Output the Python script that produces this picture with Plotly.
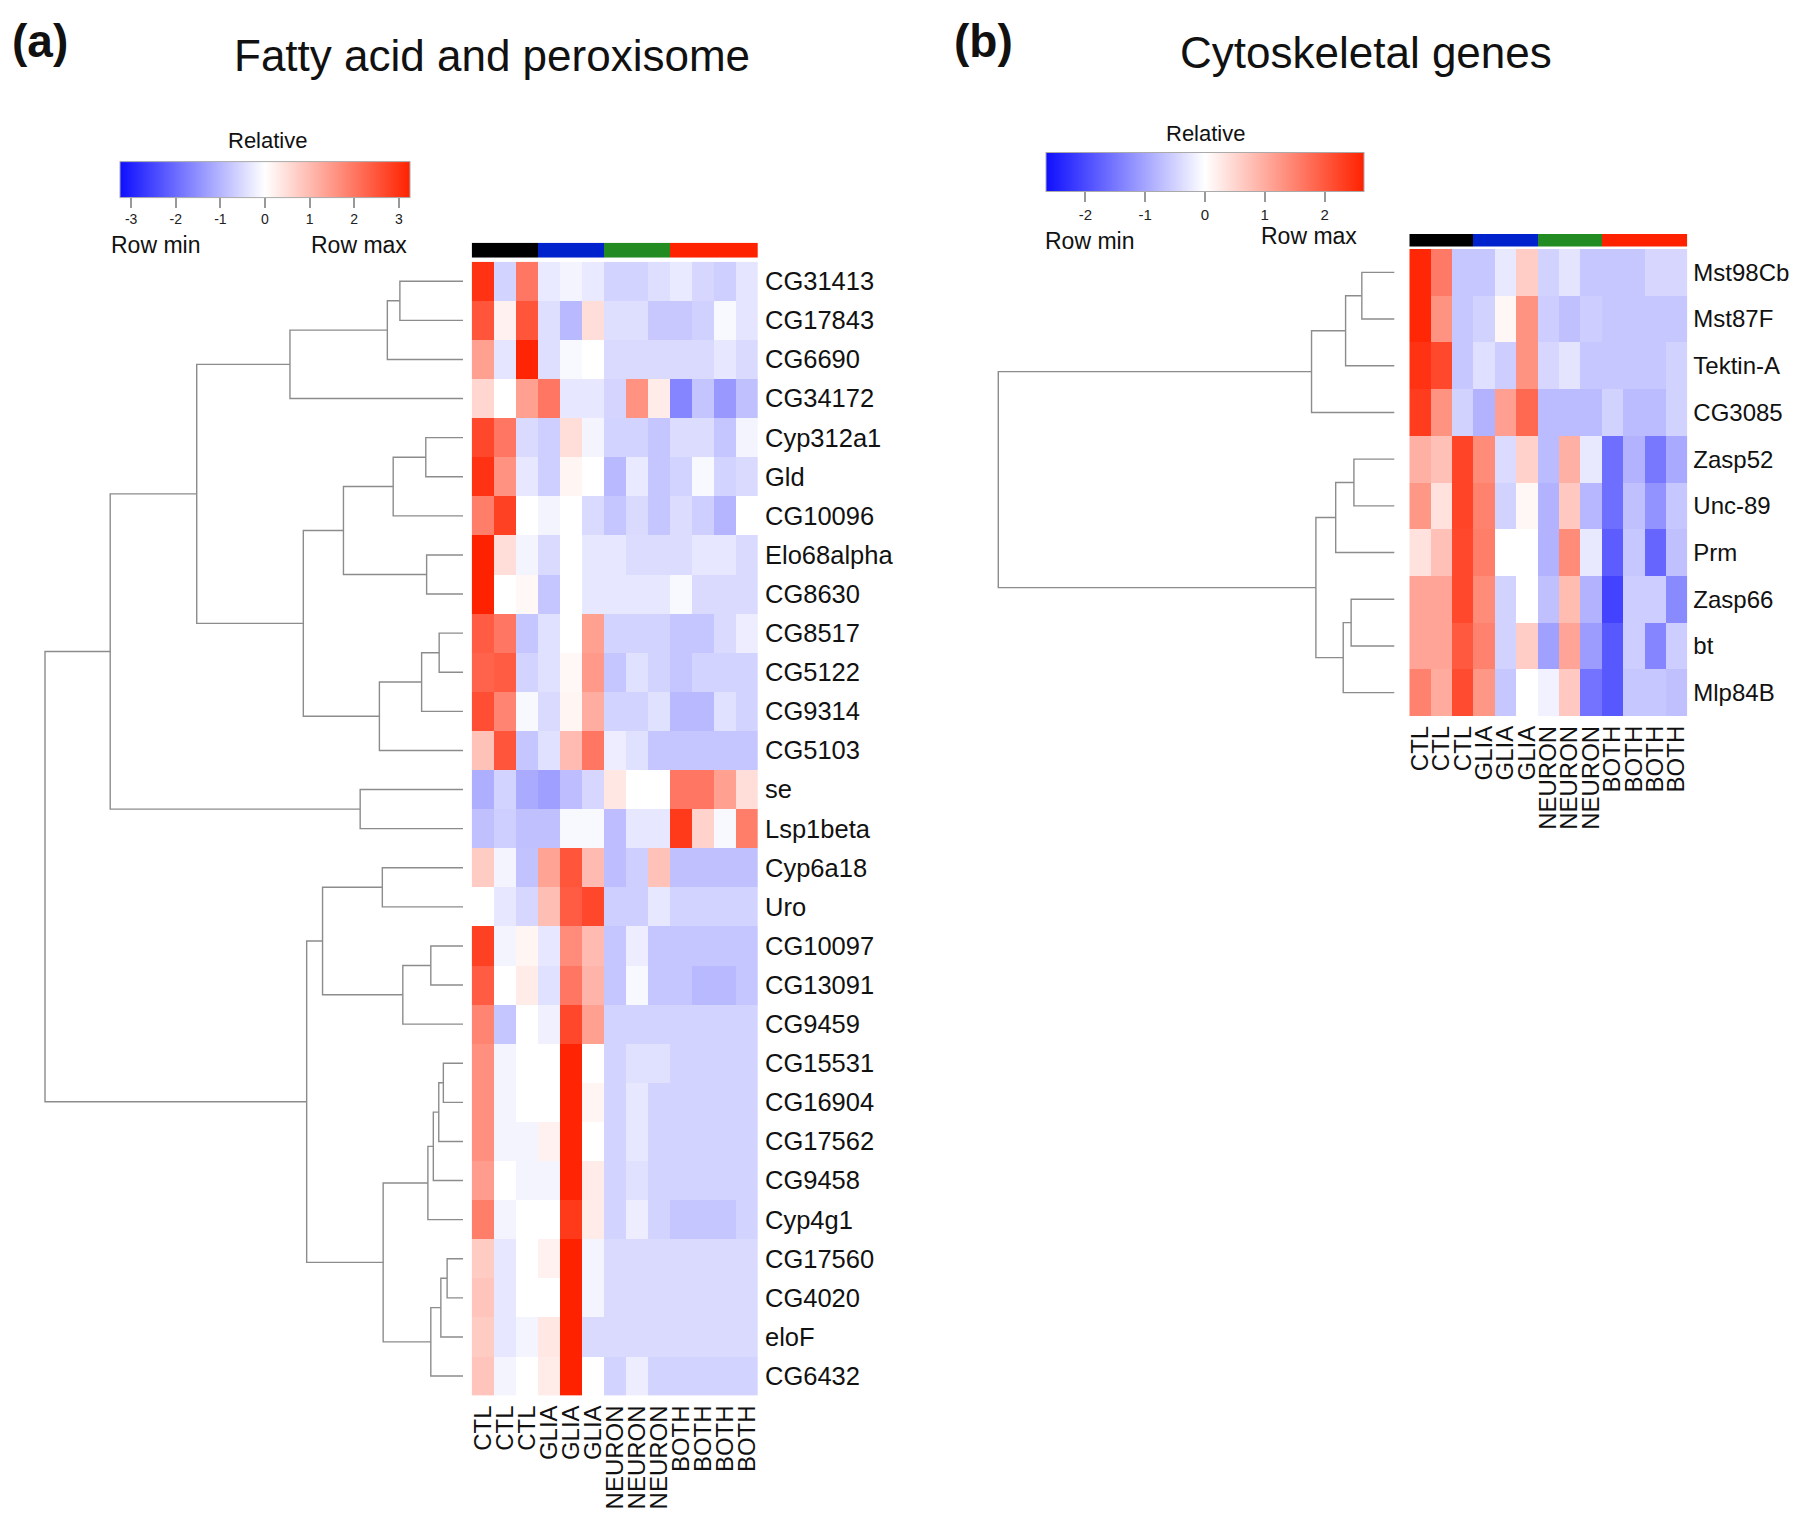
import plotly.graph_objects as go

# ---------------- data ----------------
samples = ["CTL", "CTL", "CTL", "GLIA", "GLIA", "GLIA", "NEURON", "NEURON", "NEURON",
           "BOTH", "BOTH", "BOTH", "BOTH"]
group_names = ["CTL", "GLIA", "NEURON", "BOTH"]
group_colors = ["#000000", "#0022CC", "#228B22", "#FF2200"]

genes_a = ["CG31413", "CG17843", "CG6690", "CG34172", "Cyp312a1", "Gld", "CG10096",
           "Elo68alpha", "CG8630", "CG8517", "CG5122", "CG9314", "CG5103", "se",
           "Lsp1beta", "Cyp6a18", "Uro", "CG10097", "CG13091", "CG9459", "CG15531",
           "CG16904", "CG17562", "CG9458", "Cyp4g1", "CG17560", "CG4020", "eloF", "CG6432"]

values_a = [
    [3.0, -0.6, 2.0, -0.3, -0.15, -0.3, -0.6, -0.6, -0.45, -0.3, -0.55, -0.65, -0.35],
    [2.5, 0.2, 2.5, -0.45, -0.95, 0.5, -0.45, -0.45, -0.75, -0.75, -0.62, -0.1, -0.35],
    [1.4, -0.35, 3.2, -0.45, -0.1, 0.0, -0.5, -0.5, -0.5, -0.5, -0.5, -0.33, -0.5],
    [0.6, 0.0, 1.4, 2.0, -0.33, -0.33, -0.58, 1.6, 0.3, -1.65, -0.8, -1.4, -0.85],
    [2.7, 2.0, -0.5, -0.65, 0.5, -0.15, -0.6, -0.6, -0.78, -0.47, -0.47, -0.78, -0.15],
    [3.0, 1.6, -0.33, -0.65, 0.15, 0.0, -0.95, -0.3, -0.78, -0.6, -0.1, -0.6, -0.5],
    [1.9, 2.8, 0.0, -0.15, 0.0, -0.5, -0.78, -0.5, -0.78, -0.47, -0.65, -1.0, 0.0],
    [3.25, 0.5, -0.15, -0.5, 0.0, -0.33, -0.33, -0.47, -0.47, -0.47, -0.33, -0.33, -0.5],
    [3.25, 0.0, 0.1, -0.78, 0.0, -0.33, -0.33, -0.33, -0.33, -0.1, -0.5, -0.5, -0.5],
    [2.4, 2.0, -0.78, -0.42, 0.0, 1.4, -0.6, -0.6, -0.6, -0.78, -0.78, -0.5, -0.25],
    [2.3, 2.4, -0.6, -0.42, 0.1, 1.5, -0.78, -0.42, -0.6, -0.78, -0.6, -0.6, -0.6],
    [2.6, 1.8, -0.1, -0.5, 0.15, 1.2, -0.6, -0.6, -0.42, -0.95, -0.95, -0.42, -0.6],
    [0.9, 2.5, -0.78, -0.42, 1.0, 2.0, -0.25, -0.42, -0.78, -0.78, -0.78, -0.78, -0.78],
    [-1.1, -0.6, -1.15, -1.3, -0.9, -0.55, 0.35, 0.0, 0.0, 2.0, 2.0, 1.4, 0.5],
    [-0.85, -0.65, -0.85, -0.85, -0.1, -0.1, -0.9, -0.33, -0.33, 2.9, 0.65, -0.1, 1.9],
    [0.75, -0.15, -0.82, 1.35, 2.5, 1.0, -0.9, -0.65, 0.9, -0.85, -0.85, -0.85, -0.85],
    [0.0, -0.33, -0.55, 0.95, 2.4, 2.7, -0.65, -0.65, -0.33, -0.6, -0.6, -0.6, -0.6],
    [2.8, -0.15, 0.15, -0.33, 1.7, 1.0, -0.78, -0.25, -0.78, -0.78, -0.78, -0.78, -0.78],
    [2.4, 0.0, 0.3, -0.42, 2.0, 1.1, -0.78, -0.1, -0.78, -0.78, -0.95, -0.95, -0.78],
    [1.8, -0.78, 0.0, -0.2, 2.7, 1.4, -0.6, -0.6, -0.6, -0.6, -0.6, -0.6, -0.6],
    [1.65, -0.15, 0.0, 0.0, 3.2, 0.0, -0.6, -0.42, -0.42, -0.6, -0.6, -0.6, -0.6],
    [1.65, -0.15, 0.0, 0.0, 3.2, 0.15, -0.6, -0.33, -0.6, -0.6, -0.6, -0.6, -0.6],
    [1.65, -0.15, -0.15, 0.2, 3.2, 0.0, -0.6, -0.33, -0.6, -0.6, -0.6, -0.6, -0.6],
    [1.45, 0.0, -0.15, -0.15, 3.2, 0.3, -0.6, -0.42, -0.6, -0.6, -0.6, -0.6, -0.6],
    [1.9, -0.15, 0.0, 0.0, 2.9, 0.3, -0.6, -0.25, -0.6, -0.78, -0.78, -0.78, -0.6],
    [0.75, -0.33, 0.0, 0.2, 3.25, -0.15, -0.5, -0.5, -0.5, -0.5, -0.5, -0.5, -0.5],
    [0.85, -0.33, 0.0, 0.0, 3.25, -0.15, -0.5, -0.5, -0.5, -0.5, -0.5, -0.5, -0.5],
    [0.75, -0.33, -0.15, 0.35, 3.25, -0.5, -0.5, -0.5, -0.5, -0.5, -0.5, -0.5, -0.5],
    [0.85, -0.15, 0.0, 0.3, 3.25, 0.0, -0.6, -0.25, -0.6, -0.6, -0.6, -0.6, -0.6],
]

# row dendrogram (a): [left, right, height]; leaves 0..28, merge k -> id 29+k
merge_a = [
    [0, 1, 1.51], [29, 2, 1.81], [30, 3, 4.14],
    [4, 5, 0.89], [32, 6, 1.67], [7, 8, 0.87], [33, 34, 2.86],
    [9, 10, 0.57], [36, 11, 0.99], [37, 12, 2.00], [35, 38, 3.82],
    [31, 39, 6.37], [13, 14, 2.46], [40, 41, 8.44],
    [15, 16, 1.93], [17, 18, 0.77], [44, 19, 1.44], [43, 45, 3.36],
    [20, 21, 0.47], [47, 22, 0.58], [48, 23, 0.71], [49, 24, 0.84],
    [25, 26, 0.38], [51, 27, 0.53], [52, 28, 0.77], [50, 53, 1.91],
    [46, 54, 3.74], [42, 55, 10.0],
]

genes_b = ["Mst98Cb", "Mst87F", "Tektin-A", "CG3085", "Zasp52", "Unc-89", "Prm",
           "Zasp66", "bt", "Mlp84B"]

values_b = [
    [2.6, 1.6, -0.62, -0.62, -0.25, 0.6, -0.5, -0.3, -0.62, -0.62, -0.62, -0.45, -0.45],
    [2.6, 1.3, -0.62, -0.5, 0.1, 1.3, -0.55, -0.7, -0.55, -0.62, -0.62, -0.62, -0.62],
    [2.45, 2.2, -0.62, -0.35, -0.55, 1.3, -0.45, -0.3, -0.62, -0.62, -0.62, -0.62, -0.5],
    [2.35, 1.3, -0.5, -0.85, 1.15, 1.8, -0.75, -0.75, -0.75, -0.5, -0.75, -0.75, -0.5],
    [0.95, 0.75, 2.25, 1.4, -0.4, 0.55, -0.75, 0.95, -0.25, -1.6, -0.85, -1.5, -0.95],
    [1.25, 0.35, 2.25, 1.5, -0.5, 0.1, -0.85, 0.65, -0.8, -1.6, -0.7, -1.2, -0.62],
    [0.35, 0.75, 2.2, 1.55, 0.0, 0.0, -0.85, 1.4, -0.25, -1.8, -0.62, -1.7, -0.7],
    [1.1, 1.1, 2.2, 1.4, -0.5, 0.0, -0.7, 0.8, -0.85, -2.1, -0.55, -0.55, -1.3],
    [1.1, 1.1, 2.0, 1.5, -0.5, 0.6, -1.05, 1.1, -1.1, -1.85, -0.55, -1.35, -0.55],
    [1.5, 1.0, 2.15, 1.25, -0.62, 0.0, -0.15, 0.65, -1.55, -1.85, -0.62, -0.62, -0.7],
]

# row dendrogram (b): leaves 0..9, merge k -> id 10+k
merge_b = [
    [0, 1, 0.82], [10, 2, 1.23], [11, 3, 2.09],
    [4, 5, 1.02], [13, 6, 1.48], [7, 8, 1.09], [15, 9, 1.29],
    [14, 16, 1.98], [12, 17, 10.0],
]

key_ticks_a = [-3, -2, -1, 0, 1, 2, 3]
key_ticks_b = [-2, -1, 0, 1, 2]
key_range_a = [-3.25, 3.25]
key_range_b = [-2.66, 2.66]

# ---------------- helpers ----------------
OFF = 8                      # default page margin around the plot div
W, H = 1800 - 2 * OFF, 1525 - 2 * OFF
FONT = "Liberation Sans, Arial, sans-serif"
LINE = "#8c8c8c"


def fx(p):
    return (p - OFF) / W


def fy(p):
    return 1 - (p - OFF) / H


def dendro(merges, n):
    pos = {i: float(i) for i in range(n)}
    hgt = {i: 0.0 for i in range(n)}
    xs, ys = [], []
    for k, (a, b, h) in enumerate(merges):
        xs += [hgt[a], h, h, hgt[b], None]
        ys += [pos[a], pos[a], pos[b], pos[b], None]
        pos[n + k] = (pos[a] + pos[b]) / 2
        hgt[n + k] = h
    return xs, ys


colorscale = [[0.0, "rgb(15,15,255)"], [0.5, "rgb(255,255,255)"], [1.0, "rgb(255,34,0)"]]

grp_idx = [group_names.index(s) for s in samples]
grp_scale = []
for i, c in enumerate(group_colors):
    grp_scale += [[i / 4, c], [(i + 1) / 4, c]]

ncol = len(samples)
fig = go.Figure()


def key(xc, yc, length, thick, ticks, size):
    return dict(orientation="h", lenmode="pixels", len=length, thickness=thick,
                x=fx(xc), xanchor="center", y=fy(yc), yanchor="middle",
                tickvals=ticks, ticktext=[str(t) for t in ticks],
                ticks="outside", ticklen=10, tickwidth=1.5, tickcolor="#999999",
                tickfont=dict(size=size, family=FONT, color="#222"),
                outlinewidth=1, outlinecolor="#aaaaaa", xpad=0, ypad=0,
                title=dict(text=""))


# --------- panel (a) ---------
fig.add_trace(go.Heatmap(
    z=values_a, x=list(range(ncol)), y=list(range(len(genes_a))),
    colorscale=colorscale, zmin=key_range_a[0], zmax=key_range_a[1],
    xaxis="x", yaxis="y", hoverinfo="skip",
    colorbar=key(265, 195, 290, 36, key_ticks_a, 14),
))
xs, ys = dendro(merge_a, len(genes_a))
fig.add_trace(go.Scatter(x=xs, y=ys, mode="lines", line=dict(color=LINE, width=1.4),
                         xaxis="x2", yaxis="y2", hoverinfo="skip"))
fig.add_trace(go.Heatmap(z=[grp_idx], x=list(range(ncol)), colorscale=grp_scale,
                         zmin=0, zmax=4, showscale=False, xaxis="x3", yaxis="y3",
                         hoverinfo="skip"))

# --------- panel (b) ---------
fig.add_trace(go.Heatmap(
    z=values_b, x=list(range(ncol)), y=list(range(len(genes_b))),
    colorscale=colorscale, zmin=key_range_b[0], zmax=key_range_b[1],
    xaxis="x4", yaxis="y4", hoverinfo="skip",
    colorbar=key(1205, 187.5, 318, 39, key_ticks_b, 15),
))
xs, ys = dendro(merge_b, len(genes_b))
fig.add_trace(go.Scatter(x=xs, y=ys, mode="lines", line=dict(color=LINE, width=1.4),
                         xaxis="x5", yaxis="y5", hoverinfo="skip"))
fig.add_trace(go.Heatmap(z=[grp_idx], x=list(range(ncol)), colorscale=grp_scale,
                         zmin=0, zmax=4, showscale=False, xaxis="x6", yaxis="y6",
                         hoverinfo="skip"))

hidden = dict(showgrid=False, zeroline=False, showticklabels=False, ticks="",
              showline=False)

# heatmap geometry (pixels in the 1800x1525 page)
ha_l, ha_r, ha_t, ha_b = 471.7, 758.0, 261.7, 1395.6
hb_l, hb_r, hb_t, hb_b = 1409.3, 1687.3, 249.0, 716.0
na, nb = len(genes_a), len(genes_b)

fig.update_layout(
    width=W, height=H, margin=dict(l=0, r=0, t=0, b=0, autoexpand=False),
    paper_bgcolor="white", plot_bgcolor="white", showlegend=False,
    font=dict(family=FONT, color="#111"),
    xaxis=dict(domain=[fx(ha_l), fx(ha_r)], range=[-0.5, ncol - 0.5], anchor="y",
               tickvals=list(range(ncol)), ticktext=samples, tickangle=-90,
               tickfont=dict(size=24, family=FONT, color="#111"), ticks="",
               showgrid=False, zeroline=False, ticklabelstandoff=4, automargin=False),
    yaxis=dict(domain=[fy(ha_b), fy(ha_t)], range=[na - 0.5, -0.5], anchor="x",
               side="right", tickvals=list(range(na)), ticktext=genes_a,
               tickfont=dict(size=25.5, family=FONT, color="#111"), ticks="",
               showgrid=False, zeroline=False, ticklabelstandoff=6, automargin=False),
    xaxis2=dict(domain=[fx(20), fx(468)], range=[(463 - 20) / 41.8, (463 - 468) / 41.8],
                anchor="y2", **hidden),
    yaxis2=dict(domain=[fy(ha_b), fy(ha_t)], range=[na - 0.5, -0.5], anchor="x2", **hidden),
    xaxis3=dict(domain=[fx(ha_l), fx(ha_r)], range=[-0.5, ncol - 0.5], anchor="y3", **hidden),
    yaxis3=dict(domain=[fy(257.7), fy(242.7)], range=[-0.5, 0.5], anchor="x3", **hidden),
    xaxis4=dict(domain=[fx(hb_l), fx(hb_r)], range=[-0.5, ncol - 0.5], anchor="y4",
                tickvals=list(range(ncol)), ticktext=samples, tickangle=-90,
                tickfont=dict(size=24, family=FONT, color="#111"), ticks="",
                showgrid=False, zeroline=False, ticklabelstandoff=4, automargin=False),
    yaxis4=dict(domain=[fy(hb_b), fy(hb_t)], range=[nb - 0.5, -0.5], anchor="x4",
                side="right", tickvals=list(range(nb)), ticktext=genes_b,
                tickfont=dict(size=24, family=FONT, color="#111"), ticks="",
                showgrid=False, zeroline=False, ticklabelstandoff=5, automargin=False),
    xaxis5=dict(domain=[fx(985), fx(1400)],
                range=[(1394.3 - 985) / 39.6, (1394.3 - 1400) / 39.6], anchor="y5", **hidden),
    yaxis5=dict(domain=[fy(hb_b), fy(hb_t)], range=[nb - 0.5, -0.5], anchor="x5", **hidden),
    xaxis6=dict(domain=[fx(hb_l), fx(hb_r)], range=[-0.5, ncol - 0.5], anchor="y6", **hidden),
    yaxis6=dict(domain=[fy(246.5), fy(234.0)], range=[-0.5, 0.5], anchor="x6", **hidden),
)

ann = [
    dict(text="<b>(a)</b>", x=fx(10), y=fy(41), xanchor="left", yanchor="middle",
         font=dict(size=46)),
    dict(text="<b>(b)</b>", x=fx(952), y=fy(41), xanchor="left", yanchor="middle",
         font=dict(size=46)),
    dict(text="Fatty acid and peroxisome", x=fx(492), y=fy(56), xanchor="center",
         yanchor="middle", font=dict(size=44)),
    dict(text="Cytoskeletal genes", x=fx(1366), y=fy(52), xanchor="center",
         yanchor="middle", font=dict(size=44)),
    dict(text="Relative", x=fx(267), y=fy(140), xanchor="center", yanchor="middle",
         font=dict(size=22)),
    dict(text="Relative", x=fx(1205), y=fy(133), xanchor="center", yanchor="middle",
         font=dict(size=22)),
    dict(text="Row min", x=fx(155), y=fy(245), xanchor="center", yanchor="middle",
         font=dict(size=23)),
    dict(text="Row max", x=fx(359), y=fy(245), xanchor="center", yanchor="middle",
         font=dict(size=23)),
    dict(text="Row min", x=fx(1089), y=fy(241), xanchor="center", yanchor="middle",
         font=dict(size=23)),
    dict(text="Row max", x=fx(1309), y=fy(236), xanchor="center", yanchor="middle",
         font=dict(size=23)),
]
for a in ann:
    a.update(xref="paper", yref="paper", showarrow=False)
    a["font"].update(family=FONT, color="#111")
fig.update_layout(annotations=ann)

fig.write_html("out.html")
